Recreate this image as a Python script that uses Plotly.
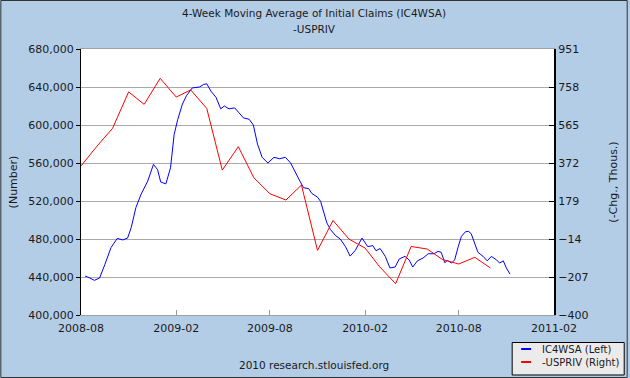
import plotly.graph_objects as go

# IC4WSA (left axis), weekly 4-week moving average
ic_dates = [
    "2008-08-09", "2008-08-14", "2008-08-27", "2008-09-06", "2008-09-16", "2008-09-28", "2008-10-10",
    "2008-10-21", "2008-10-30", "2008-11-06", "2008-11-15", "2008-11-25", "2008-12-08",
    "2008-12-19", "2008-12-27", "2009-01-02", "2009-01-12", "2009-01-21", "2009-01-28",
    "2009-02-04", "2009-02-13", "2009-02-21", "2009-03-04", "2009-03-18", "2009-03-26",
    "2009-04-01", "2009-04-09", "2009-04-19", "2009-04-28", "2009-05-05", "2009-05-14",
    "2009-05-25", "2009-06-02", "2009-06-11", "2009-06-22", "2009-06-30", "2009-07-08",
    "2009-07-17", "2009-07-28", "2009-08-09", "2009-08-20", "2009-08-31", "2009-09-10",
    "2009-09-19", "2009-09-28", "2009-10-05", "2009-10-15", "2009-10-21", "2009-11-01",
    "2009-11-07", "2009-11-13", "2009-11-19", "2009-11-26", "2009-12-06", "2009-12-15",
    "2009-12-25", "2010-01-03", "2010-01-13", "2010-01-26", "2010-02-06", "2010-02-16",
    "2010-02-22", "2010-03-02", "2010-03-12", "2010-03-21", "2010-03-31", "2010-04-08",
    "2010-04-19", "2010-04-27", "2010-05-04", "2010-05-13", "2010-05-24", "2010-06-03",
    "2010-06-14", "2010-06-22", "2010-06-28", "2010-07-05", "2010-07-10", "2010-07-18",
    "2010-07-24", "2010-07-31", "2010-08-06", "2010-08-14", "2010-08-20", "2010-08-25",
    "2010-09-01", "2010-09-07", "2010-09-17", "2010-09-25", "2010-10-03", "2010-10-13",
    "2010-10-19", "2010-10-26", "2010-11-01", "2010-11-08",
]
ic_values = [
    441000, 440000, 436500, 439000, 453000, 471000, 480600,
    479000, 481000, 492000, 513000, 527000, 541000,
    558500, 553000, 540000, 538000, 555000, 590000,
    606000, 622000, 631000, 639000, 640000, 642700,
    643400, 635700, 629000, 617000, 620000, 617000,
    618000, 613000, 607500, 606000, 600000, 580000,
    566000, 560000, 566000, 564500, 566000, 560000,
    549800, 541000, 534000, 533000, 528000, 524000,
    519600, 509000, 497000, 490000, 483500, 480000,
    472000, 462000, 468000, 481000, 472000, 473000,
    467700, 470000, 461700, 449500, 450500, 459000,
    461700, 458000, 450500, 457000, 460000, 464500,
    464500, 467000, 466000, 455000, 457500, 454700,
    458000, 472000, 482700, 487700, 488000, 485600,
    475800, 466000, 461700, 457000, 461700, 458000,
    454700, 457000, 449500, 443000,
]

# -USPRIV (right axis), monthly change in private payrolls, sign flipped (thousands)
pr_dates = [
    "2008-08-01", "2008-09-01", "2008-10-01", "2008-11-01", "2008-12-01", "2009-01-01",
    "2009-02-01", "2009-03-01", "2009-04-01", "2009-05-01", "2009-06-01", "2009-07-01",
    "2009-08-01", "2009-09-01", "2009-10-01", "2009-11-01", "2009-12-01", "2010-01-01",
    "2010-02-01", "2010-03-01", "2010-04-01", "2010-05-01", "2010-06-01", "2010-07-01",
    "2010-08-01", "2010-09-01", "2010-10-01",
]
pr_values = [
    357, 458, 548, 733, 670, 802,
    707, 743, 649, 336, 455, 297,
    216, 184, 260, -72, 80, -15,
    -60, -155, -241, -52, -65, -119,
    -141, -107, -161,
]

x_tickvals = ["2008-08-01", "2009-02-01", "2009-08-01", "2010-02-01", "2010-08-01", "2011-02-01"]
x_ticktext = ["2008-08", "2009-02", "2009-08", "2010-02", "2010-08", "2011-02"]
left_ticks = [400000, 440000, 480000, 520000, 560000, 600000, 640000, 680000]
right_ticks = [-400, -207, -14, 179, 372, 565, 758, 951]

W, H = 630, 378
L, R, T, B = 81, 556, 49, 315
pw, ph = R - L, B - T


def px(x):
    return (x - L) / pw


def py(y):
    return (B - y) / ph


FONT = "DejaVu Sans"
BG = "#B4CDE6"

fig = go.Figure()
fig.add_trace(go.Scatter(x=ic_dates, y=ic_values, mode="lines", name="IC4WSA (Left)",
                         line=dict(color="#0000FF", width=1), yaxis="y"))
fig.add_trace(go.Scatter(x=pr_dates, y=pr_values, mode="lines", name="-USPRIV (Right)",
                         line=dict(color="#FF0000", width=1), yaxis="y2"))

fig.update_layout(
    width=W, height=H,
    margin=dict(l=L, r=W - R, t=T, b=H - B, pad=0),
    paper_bgcolor=BG, plot_bgcolor="white",
    showlegend=False,
    font=dict(family=FONT, size=11, color="#1a1a1a"),
    xaxis=dict(type="date", range=["2008-08-01", "2011-02-01"],
               tickvals=x_tickvals, ticktext=x_ticktext,
               ticks="inside", ticklen=5, tickcolor="#999999",
               showline=True, linecolor="#A0A0A0", linewidth=1, mirror=True,
               showgrid=False, zeroline=False, tickfont=dict(size=11),
               ticklabelstandoff=3),
    yaxis=dict(range=[400000, 680000], tickvals=left_ticks, tickformat=",d",
               ticks="outside", ticklen=4, tickcolor="#000000",
               showline=True, linecolor="#000000", linewidth=1,
               showgrid=True, gridcolor="#AAAAAA", gridwidth=1, zeroline=False,
               title=dict(text="(Number)", standoff=8, font=dict(size=11)),
               tickfont=dict(size=11)),
    yaxis2=dict(range=[-400, 951], tickvals=right_ticks, overlaying="y", side="right",
                ticks="inside", ticklen=5, tickcolor="#000000",
                showline=True, linecolor="#000000", linewidth=2,
                showgrid=False, zeroline=False,
                title=dict(text="(-Chg., Thous.)", standoff=22, font=dict(size=11)),
                tickfont=dict(size=11)),
)

annotations = [
    dict(text="4-Week Moving Average of Initial Claims (IC4WSA)", x=px(315), y=py(13),
         font=dict(size=10.5)),
    dict(text="-USPRIV", x=px(315), y=py(29), font=dict(size=10.5)),
    dict(text="2010 research.stlouisfed.org", x=px(315), y=py(365), font=dict(size=10.5)),
    dict(text="IC4WSA (Left)", x=px(542), y=py(349), xanchor="left", font=dict(size=10)),
    dict(text="-USPRIV (Right)", x=px(542), y=py(362), xanchor="left", font=dict(size=10)),
]
for a in annotations:
    a.setdefault("xanchor", "center")
    fig.add_annotation(xref="paper", yref="paper", yanchor="middle", showarrow=False, **a)

shapes = [
    # legend box
    dict(type="rect", x0=px(514), x1=px(626.5), y0=py(342.5), y1=py(375), line=dict(color="#000000", width=1),
         fillcolor="#EBEBEB"),
    dict(type="line", x0=px(523), x1=px(533), y0=py(349), y1=py(349), line=dict(color="#0000FF", width=2)),
    dict(type="line", x0=px(523), x1=px(533), y0=py(362), y1=py(362), line=dict(color="#FF0000", width=2)),
    # outer border
    dict(type="rect", x0=px(0.5), x1=px(629.5), y0=py(0.5), y1=py(377.5), line=dict(color="#333333", width=1)),
]
for s in shapes:
    fig.add_shape(xref="paper", yref="paper", layer="above", **s)

fig.write_html("out.html", config={"displayModeBar": False},
               post_script="document.body.style.margin='0';document.body.style.padding='0';")
